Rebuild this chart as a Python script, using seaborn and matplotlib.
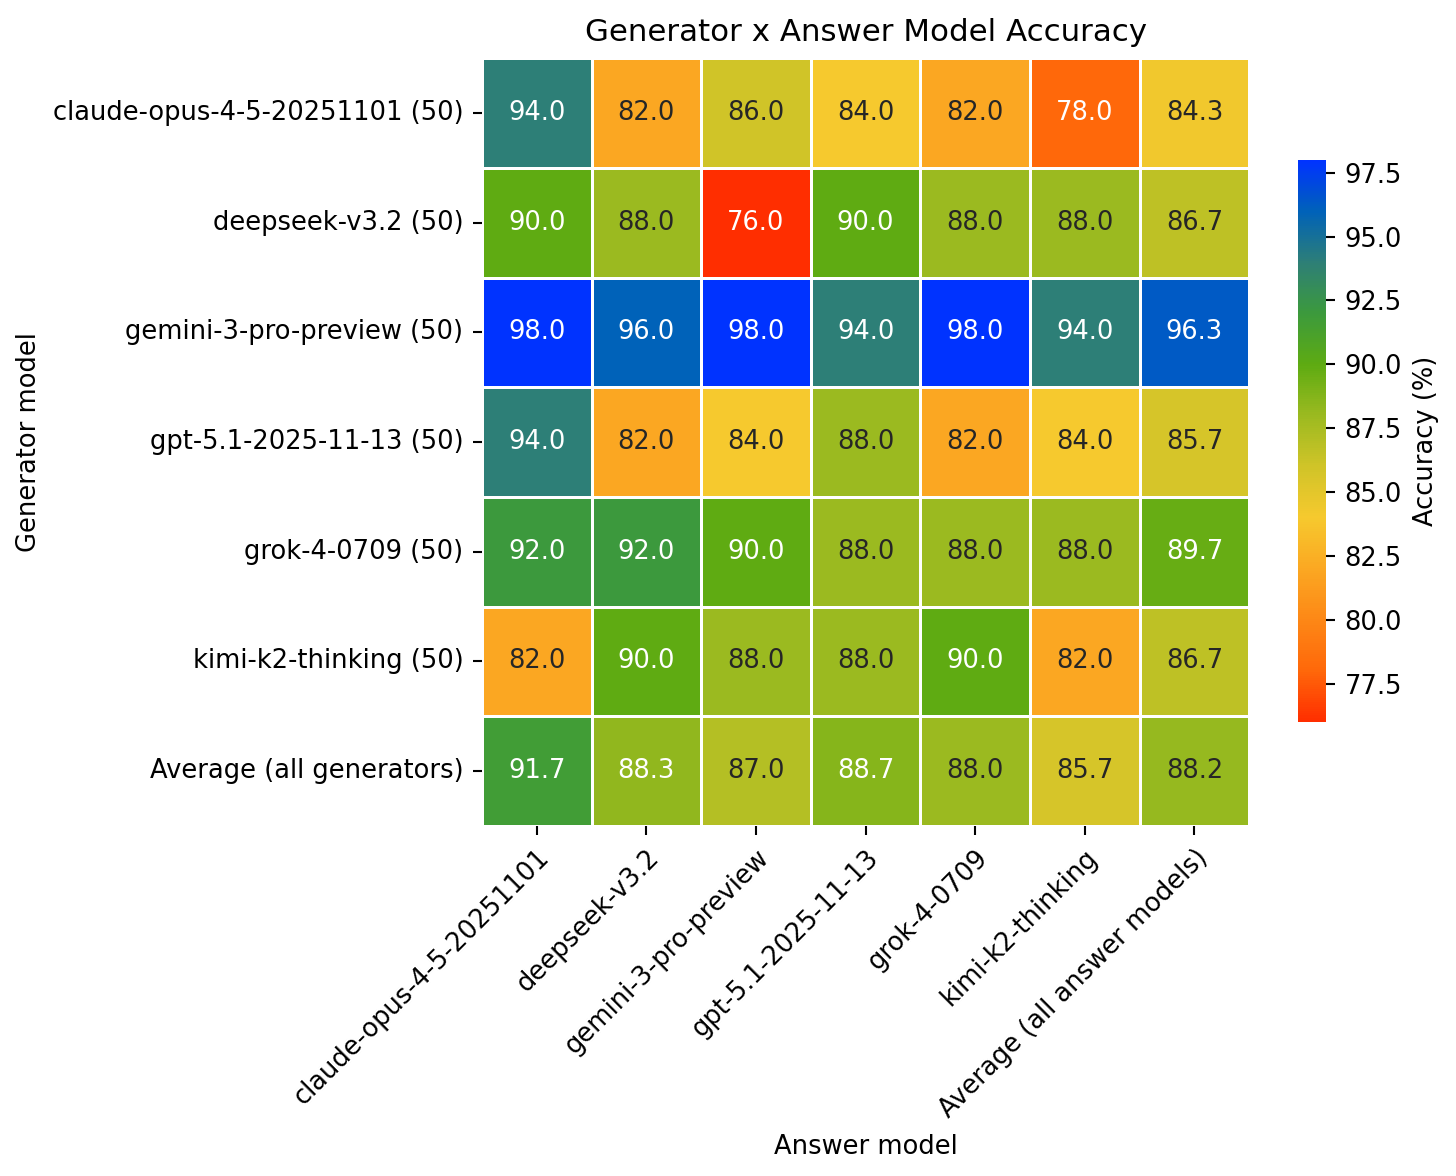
import numpy as np
import pandas as pd
import matplotlib
matplotlib.use("Agg")
import matplotlib.pyplot as plt
import seaborn as sns
from matplotlib.colors import LinearSegmentedColormap

generators = ["claude-opus-4-5-20251101 (50)", "deepseek-v3.2 (50)", "gemini-3-pro-preview (50)",
              "gpt-5.1-2025-11-13 (50)", "grok-4-0709 (50)", "kimi-k2-thinking (50)",
              "Average (all generators)"]
answer_models = ["claude-opus-4-5-20251101", "deepseek-v3.2", "gemini-3-pro-preview",
                 "gpt-5.1-2025-11-13", "grok-4-0709", "kimi-k2-thinking",
                 "Average (all answer models)"]

row_claude = [94.0, 82.0, 86.0, 84.0, 82.0, 78.0, 84.3]
row_deepseek = [90.0, 88.0, 76.0, 90.0, 88.0, 88.0, 86.7]
row_gemini = [98.0, 96.0, 98.0, 94.0, 98.0, 94.0, 96.3]
row_gpt = [94.0, 82.0, 84.0, 88.0, 82.0, 84.0, 85.7]
row_grok = [92.0, 92.0, 90.0, 88.0, 88.0, 88.0, 89.7]
row_kimi = [82.0, 90.0, 88.0, 88.0, 90.0, 82.0, 86.7]
row_avg = [91.7, 88.3, 87.0, 88.7, 88.0, 85.7, 88.2]

df = pd.DataFrame([row_claude, row_deepseek, row_gemini, row_gpt, row_grok, row_kimi, row_avg],
                  index=generators, columns=answer_models)

vmin, vmax = 76.0, 98.0
stops = [(76, "#FF2E00"), (78, "#FF680A"), (82, "#FBA822"), (84, "#F6C92E"),
         (86, "#D0C428"), (88, "#9BBA20"), (90, "#5EAB12"), (92, "#3C9A3C"),
         (94, "#2E7F76"), (96, "#0062B8"), (98, "#0033FF")]
cmap = LinearSegmentedColormap.from_list(
    "acc", [((v - vmin) / (vmax - vmin), c) for v, c in stops])

fs = 9.25
fig = plt.figure(figsize=(7.28, 5.88), dpi=200)
ax = fig.add_axes([0.331, 0.2976, 0.527, 0.653])
cax = fig.add_axes([0.8915, 0.386, 0.0192, 0.478])

sns.heatmap(df, ax=ax, cbar_ax=cax, cmap=cmap, vmin=vmin, vmax=vmax,
            annot=True, fmt=".1f", linewidths=0.9, linecolor="white",
            annot_kws={"size": fs},
            cbar_kws={"label": "Accuracy (%)"})
cax.tick_params(labelsize=fs, width=0.75, length=3.2)
cax.yaxis.label.set_size(fs)
for s in cax.spines.values():
    s.set_visible(False)

ax.tick_params(labelsize=fs, width=0.75, length=3.2)
ax.set_title("Generator x Answer Model Accuracy", fontsize=11.1)
ax.set_xlabel("Answer model", fontsize=fs)
ax.set_ylabel("Generator model", fontsize=fs)
plt.setp(ax.get_xticklabels(), rotation=45, ha="right", rotation_mode="anchor")
plt.setp(ax.get_yticklabels(), rotation=0)

fig.savefig("out.png", dpi=200)
